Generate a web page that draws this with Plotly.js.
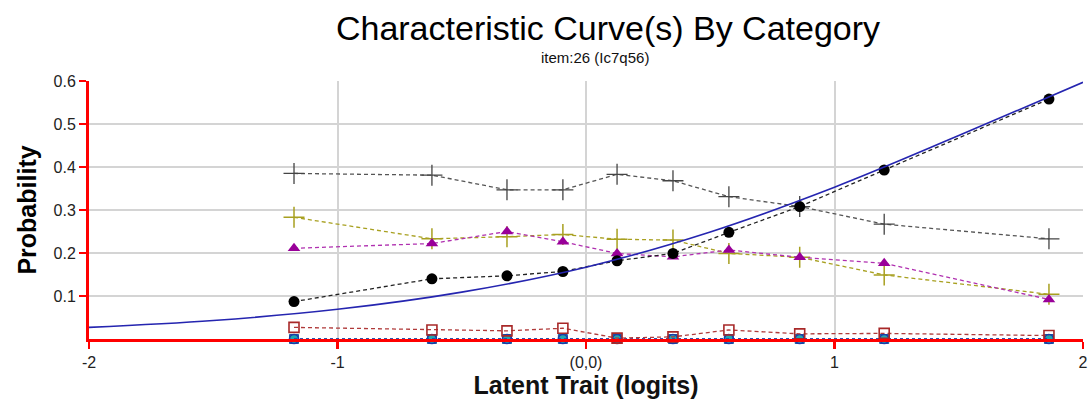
<!DOCTYPE html>
<html>
<head>
<meta charset="utf-8">
<script src="https://cdn.plot.ly/plotly-3.0.1.min.js"></script>
<style>
html,body{margin:0;padding:0;background:#fff;}
#chart{width:1089px;height:403px;}
</style>
</head>
<body>
<div id="chart"></div>
<script>
// Latent trait positions (logits) of the observed points
const theta = [-1.175, -0.62, -0.318, -0.093, 0.125, 0.35, 0.575, 0.86, 1.20, 1.863];

// Observed proportions per category
const catGray   = [0.385, 0.381, 0.347, 0.347, 0.383, 0.368, 0.331, 0.308, 0.267, 0.233];
const catOlive  = [0.283, 0.233, 0.238, 0.243, 0.232, 0.230, 0.199, 0.190, 0.149, 0.104];
const catPurple = [0.211, 0.222, 0.250, 0.226, 0.199, 0.191, 0.207, 0.190, 0.176, 0.092];
const catBlack  = [0.087, 0.140, 0.147, 0.157, 0.182, 0.199, 0.248, 0.308, 0.393, 0.558];
const catBrown  = [0.027, 0.021, 0.019, 0.025, 0.002, 0.005, 0.021, 0.012, 0.013, 0.008];
const catTeal   = [0, 0, 0, 0, 0, 0, 0, 0, 0, 0];
const catBlue   = [0, 0, 0, 0, 0, 0, 0, 0, 0, 0];

// Model curve
const curveX = [-2, -1.5, -1, -0.5, 0, 0.5, 1, 1.5, 2];
const curveY = [0.027, 0.043, 0.069, 0.109, 0.167, 0.249, 0.353, 0.473, 0.597];

// Axis ticks
const xTickVals = [-2, -1, 0, 1, 2];
const xTickText = ["-2", "-1", "(0,0)", "1", "2"];
const yTickVals = [0.1, 0.2, 0.3, 0.4, 0.5, 0.6];
const yTickText = ["0.1", "0.2", "0.3", "0.4", "0.5", "0.6"];

const dash = "4px,3px";
function obs(y, lineColor, marker, lineDash) {
  return {x: theta, y: y, type: "scatter", mode: "lines+markers",
    line: {color: lineColor, width: 1.3, dash: lineDash || dash}, marker: marker,
    cliponaxis: false, hoverinfo: "x+y"};
}

const traces = [
  obs(catTeal, "#20a8b0", {symbol: "square", size: 9, color: "#20a8b0", line: {color: "#1a5aa0", width: 1}}, "3px,3px"),
  obs(catBlue, "#2233aa", {symbol: "circle-open", size: 9, color: "#1d3aa8", line: {color: "#1d3aa8", width: 1.6}}, "3px,3px"),
  obs(catBrown, "#b03a3a", {symbol: "square-open", size: 10, color: "#a82828", line: {color: "#a82828", width: 1.6}}),
  obs(catGray, "#555555", {symbol: "cross-thin", size: 15, color: "#444444", line: {color: "#444444", width: 1.3}}),
  obs(catOlive, "#a8a020", {symbol: "cross-thin", size: 15, color: "#a8a020", line: {color: "#a8a020", width: 1.5}}),
  obs(catPurple, "#b030b0", {symbol: "triangle-up", size: 11, color: "#990099"}),
  obs(catBlack, "#222222", {symbol: "circle", size: 11, color: "#000000"}),
  {x: curveX, y: curveY, type: "scatter", mode: "lines",
   line: {color: "#2525b0", width: 1.6, shape: "spline", smoothing: 1.0}, hoverinfo: "x+y"}
];

const layout = {
  width: 1089, height: 403,
  margin: {l: 89, r: 6, t: 81, b: 64},
  paper_bgcolor: "#ffffff", plot_bgcolor: "#ffffff",
  showlegend: false,
  font: {family: "Liberation Sans, Arial, sans-serif", color: "#222"},
  title: {text: "Characteristic Curve(s) By Category", font: {size: 34, color: "#000"},
          x: 608/1089, xanchor: "center", xref: "container", y: 0.93, yanchor: "middle"},
  annotations: [
    {text: "item:26 (Ic7q56)", xref: "paper", yref: "paper", x: (595-89)/994, y: 1.09,
     xanchor: "center", yanchor: "middle", showarrow: false, font: {size: 15, color: "#111"}}
  ],
  xaxis: {
    range: [-2, 2], tickvals: xTickVals, ticktext: xTickText,
    showline: true, linecolor: "#ff0000", linewidth: 3,
    ticks: "outside", ticklen: 7, tickwidth: 2.5, tickcolor: "#ff0000",
    showgrid: true, gridcolor: "#d4d4d4", gridwidth: 2,
    zeroline: false, tickfont: {size: 16, color: "#222"},
    title: {text: "Latent Trait (logits)", font: {size: 25, color: "#111", weight: "bold"}, standoff: 5}
  },
  yaxis: {
    range: [0, 0.6], tickvals: yTickVals, ticktext: yTickText,
    showline: true, linecolor: "#ff0000", linewidth: 3,
    ticks: "outside", ticklen: 7, tickwidth: 2.5, tickcolor: "#ff0000",
    showgrid: true, gridcolor: "#d4d4d4", gridwidth: 2,
    zeroline: false, tickfont: {size: 16, color: "#222"},
    title: {text: "Probability", font: {size: 25, color: "#000", weight: "bold"}, standoff: 10}
  }
};

Plotly.newPlot("chart", traces, layout, {displayModeBar: false, staticPlot: true});
</script>
</body>
</html>
